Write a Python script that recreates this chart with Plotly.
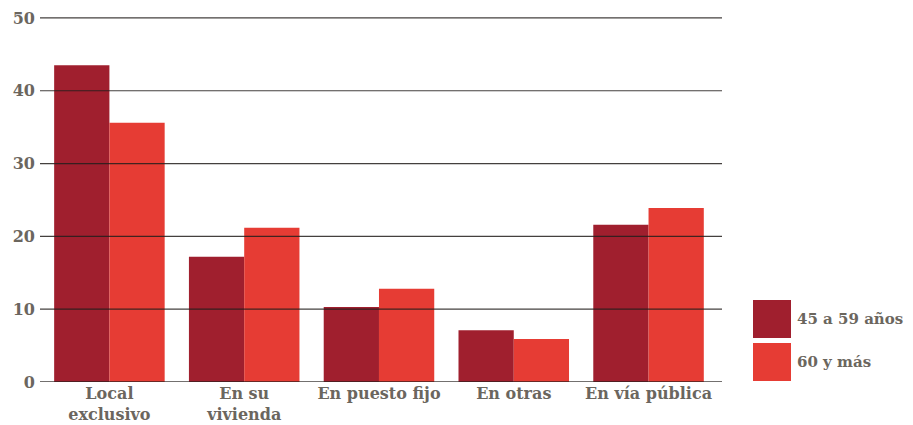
import plotly.graph_objects as go

categories = ["Local<br>exclusivo", "En su<br>vivienda", "En puesto fijo", "En otras", "En vía pública"]
series_names = ["45 a 59 años", "60 y más"]
values_45_59 = [43.5, 17.2, 10.3, 7.1, 21.6]
values_60 = [35.6, 21.2, 12.8, 5.9, 23.9]
colors = ["#a01f2e", "#e63c34"]
y_ticks = [0, 10, 20, 30, 40, 50]

FONT = "DejaVu Serif"
GRAY = "#6b665e"

fig = go.Figure()
xs = list(range(len(categories)))
for name, vals, col in zip(series_names, [values_45_59, values_60], colors):
    fig.add_trace(go.Bar(x=xs, y=vals, name=name, marker=dict(color=col, line=dict(width=0)),
                         showlegend=False))

fig.update_layout(
    width=913, height=425,
    margin=dict(l=40, r=191, t=15, b=43, autoexpand=False),
    barmode="group", bargap=0.18, bargroupgap=0,
    plot_bgcolor="white", paper_bgcolor="white",
    font=dict(family=FONT, color=GRAY, size=15),
    xaxis=dict(tickmode="array", tickvals=xs, ticktext=categories, range=[-0.515, 4.545],
               showgrid=False, zeroline=False, ticks="", showline=False, automargin=False,
               tickfont=dict(family=FONT, size=16, color=GRAY, weight="bold")),
    yaxis=dict(range=[0, 50.4], tickvals=y_ticks, showgrid=False,
               zeroline=False, ticks="", ticklen=0, automargin=False, ticklabelstandoff=4,
               tickfont=dict(family=FONT, size=16, color=GRAY, weight="bold")),
)

# gridlines drawn above the bars, as in the reference
for t in y_ticks:
    fig.add_shape(type="line", xref="paper", yref="y", x0=0, x1=1, y0=t, y1=t,
                  line=dict(color="rgba(35,30,28,0.85)", width=1.5 if t == 0 else 1.2),
                  layer="above")

# custom legend with large swatches
for i, (name, col) in enumerate(zip(series_names, colors)):
    y0 = 300 + i * 43
    fig.add_shape(type="rect", xref="paper", yref="paper",
                  x0=(753 - 40) / 682, x1=(791 - 40) / 682,
                  y0=(382 - (y0 + 38)) / 367, y1=(382 - y0) / 367,
                  fillcolor=col, line=dict(width=0))
    fig.add_annotation(xref="paper", yref="paper", x=(795 - 40) / 682, y=(382 - (y0 + 19)) / 367,
                       text=name, showarrow=False, xanchor="left", yanchor="middle",
                       font=dict(family=FONT, size=15, color=GRAY, weight="bold"))

fig.write_html("out.html", config={"displayModeBar": False},
               post_script="document.body.style.margin='0';document.body.style.overflow='hidden';")
